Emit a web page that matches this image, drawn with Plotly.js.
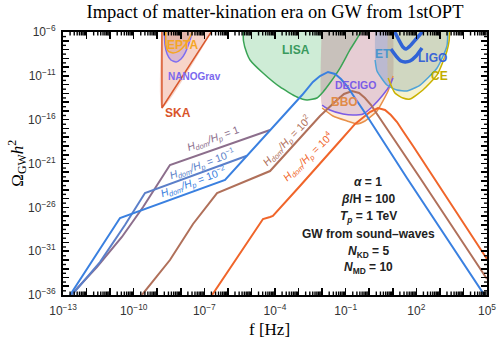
<!DOCTYPE html>
<html><head><meta charset="utf-8">
<script src="https://cdn.plot.ly/plotly-3.0.1.min.js"></script>
<style>html,body{margin:0;padding:0;background:#fff;}#chart{width:498px;height:344px;}</style>
</head><body><div id="chart"></div>
<script>
// All values are log10(f/Hz) and log10(Omega_GW h^2).
// GW spectra, H_dom/H_p = 1, 1e-1, 1e-2, 1e2, 1e4
const purpleLogF = [-12.66, -11.56, -10.50, -9.60, -8.46, -4.21];
const purpleLogO = [-36.00, -32.81, -29.38, -25.96, -21.17, -17.18];
const midLogF = [-12.62, -11.43, -10.37, -9.52, -5.19];
const midLogO = [-36.00, -32.24, -28.02, -24.37, -20.12];
const blueLogF = [-12.70, -10.58, -6.12, -4.42, -3.36, -2.85, -2.39, -2.09, -1.75, -1.45, -1.20, -0.94, -0.69, -0.26, 1.60, 5.00];
const blueLogO = [-36.00, -27.22, -22.88, -17.86, -14.67, -13.19, -11.70, -11.02, -10.56, -10.79, -11.36, -12.16, -13.19, -14.90, -22.65, -36.46];
const brownLogF = [-9.65, -8.46, -7.48, -6.46, -4.21, -2.94, -2.09, -1.37, -1.07, -0.73, -0.43, -0.18, 0.08, 0.33, 0.75, 2.16, 5.00];
const brownLogO = [-36.00, -32.01, -27.90, -24.37, -21.86, -18.09, -15.58, -13.76, -13.07, -12.73, -12.96, -13.53, -14.33, -15.35, -17.06, -22.65, -34.17];
const orangeLogF = [-6.67, -4.51, -4.21, -4.09, -2.94, -2.09, -1.24, -0.60, -0.26, 0.03, 0.37, 0.67, 0.92, 1.18, 1.43, 1.86, 5.00];
const orangeLogO = [-36.00, -27.33, -27.10, -26.99, -23.57, -21.06, -18.43, -16.49, -15.70, -15.13, -14.67, -14.90, -15.47, -16.27, -17.29, -19.00, -31.89];

// Detector sensitivity regions
const skaLogF = [-8.80, -8.80, -6.38];
const skaLogO = [-4.63, -14.67, -4.63];
const nanoLogF = [-8.71, -8.67, -8.58, -8.42, -8.20, -7.99, -7.82, -7.65, -7.52, -7.48];
const nanoLogO = [-4.63, -7.48, -8.51, -9.19, -9.42, -9.08, -8.40, -7.25, -6.00, -4.63];
const eptaLogF = [-8.63, -8.63, -8.54, -8.33, -8.08, -7.82, -7.61, -7.44, -7.35];
const eptaLogO = [-4.63, -7.48, -8.17, -8.40, -8.17, -7.48, -6.57, -5.54, -4.63];
const lisaLogF = [-5.34, -5.34, -5.20, -5.06, -4.51, -3.79, -3.07, -2.64, -2.22, -1.96, -1.67, -1.24, -0.82, -0.39, -0.35];
const lisaLogO = [-4.63, -7.00, -8.40, -9.19, -10.68, -12.27, -13.41, -13.76, -13.53, -12.84, -11.82, -10.11, -8.05, -6.11, -4.63];
const decigoLogF = [-2.00, -2.00, -1.67, -1.11, -0.69, -0.26, 0.16, 0.58, 0.88, 1.01, 1.01];
const decigoLogO = [-4.63, -14.33, -14.90, -15.35, -15.47, -15.35, -14.44, -13.19, -12.05, -11.25, -4.63];
const bboLogF = [-2.00, -2.00, -1.54, -0.94, -0.52, -0.18, 0.33, 0.80, 1.01, 1.01];
const bboLogO = [-4.63, -14.67, -15.58, -16.15, -16.49, -16.15, -15.01, -12.73, -11.02, -4.63];
const etLogF = [0.25, 0.25, 0.33, 0.75, 1.18, 1.60, 2.16, 2.88, 3.30, 3.34];
const etLogO = [-4.63, -9.19, -10.45, -12.05, -12.62, -12.73, -12.05, -10.11, -7.60, -4.63];
const ceLogF = [0.80, 0.80, 1.09, 1.43, 1.73, 2.28, 2.88, 3.30, 3.39, 3.43];
const ceLogO = [-4.63, -11.25, -12.96, -13.53, -13.64, -12.62, -10.90, -8.17, -7.03, -4.63];
const ligoALogF = [0.96, 1.26, 1.43, 1.56, 1.73, 1.99, 2.28];
const ligoALogO = [-5.32, -6.91, -7.71, -7.94, -7.60, -6.80, -5.89];
const ligoBLogF = [0.92, 1.14, 1.35, 1.52, 1.73, 1.99, 2.24];
const ligoBLogO = [-7.94, -8.74, -9.31, -9.42, -9.31, -8.74, -7.83];

// Axis ticks (decade exponents)
const xDecades = [-13,-12,-11,-10,-9,-8,-7,-6,-5,-4,-3,-2,-1,0,1,2,3,4,5];
const xLabelled = [-13,-10,-7,-4,-1,2,5];
const yDecades = [];
for (let e = -36; e <= -6; e++) yDecades.push(e);
const yLabelled = [-36,-31,-26,-21,-16,-11,-6];
const xRange = [-13, 5], yRange = [-36, -6];

const P = a => a.map(v => Math.pow(10, v));
const sup = e => '10<sup>' + (e < 0 ? '\u2212' + (-e) : e) + '</sup>';

function fillTrace(lf, lo, color) {
  return {x: P(lf), y: P(lo), mode: 'lines', fill: 'toself', fillcolor: color,
          line: {width: 0, shape: 'spline', smoothing: 0.5}, hoverinfo: 'skip', showlegend: false};
}
function lineTrace(lf, lo, color, w, shape) {
  return {x: P(lf), y: P(lo), mode: 'lines', line: {color: color, width: w, shape: shape || 'linear', smoothing: 0.5},
          hoverinfo: 'skip', showlegend: false};
}
const sl = (a, i, j) => a.slice(i, j);

// Minor tick marks (multiples 2..9 on x, 3x on y), drawn as short segments on all four sides
const plotW = 498 - 63 - 11, plotH = 344 - 32 - 49;
const dxPerPx = (xRange[1] - xRange[0]) / plotW, dyPerPx = (yRange[1] - yRange[0]) / plotH;
const tx = [], ty = [];
function seg(x0, y0, x1, y1) { tx.push(Math.pow(10, x0), Math.pow(10, x1), null); ty.push(Math.pow(10, y0), Math.pow(10, y1), null); }
function xTick(le, len) {
  seg(le, yRange[0], le, yRange[0] + len * dyPerPx);
  seg(le, yRange[1], le, yRange[1] - len * dyPerPx);
}
function yTick(le, len) {
  seg(xRange[0], le, xRange[0] + len * dxPerPx, le);
  seg(xRange[1], le, xRange[1] - len * dxPerPx, le);
}
xDecades.forEach(e => {
  if (e < xRange[1]) for (let m = 2; m <= 9; m++) xTick(e + Math.log10(m), 3.5);
});
yDecades.forEach(e => {
  if (e < yRange[1]) yTick(e + Math.log10(3), 3);
});

const traces = [
  fillTrace(skaLogF, skaLogO, 'rgba(225,100,60,0.28)'),
  fillTrace(nanoLogF, nanoLogO, 'rgba(130,100,230,0.25)'),
  fillTrace(eptaLogF, eptaLogO, 'rgba(250,170,60,0.25)'),
  fillTrace(lisaLogF, lisaLogO, 'rgba(60,180,90,0.25)'),
  fillTrace(bboLogF, bboLogO, 'rgba(245,160,80,0.2)'),
  fillTrace(decigoLogF, decigoLogO, 'rgba(160,110,190,0.24)'),
  fillTrace(etLogF, etLogO, 'rgba(90,140,200,0.3)'),
  fillTrace(ceLogF, ceLogO, 'rgba(220,200,60,0.25)'),
  lineTrace(skaLogF, skaLogO, '#d9582c', 1.5),
  lineTrace(nanoLogF, nanoLogO, '#7f6ef0', 1.5, 'spline'),
  lineTrace(eptaLogF, eptaLogO, '#f5a623', 1.5, 'spline'),
  lineTrace(lisaLogF, lisaLogO, '#3aa455', 1.5, 'spline'),
  lineTrace(sl(bboLogF,1,9), sl(bboLogO,1,9), '#e8904a', 1.5, 'spline'),
  lineTrace(sl(decigoLogF,1,10), sl(decigoLogO,1,10), '#7b5ce6', 1.5, 'spline'),
  lineTrace(sl(etLogF,1,10), sl(etLogO,1,10), '#4fa3d8', 1.5, 'spline'),
  lineTrace(sl(ceLogF,1,10), sl(ceLogO,1,10), '#c9b200', 1.5, 'spline'),
  lineTrace(ligoALogF, ligoALogO, '#3063d6', 3.5, 'spline'),
  lineTrace(ligoBLogF, ligoBLogO, '#3063d6', 3.5, 'spline'),
  lineTrace(purpleLogF, purpleLogO, '#8c6e8c', 2),
  lineTrace(midLogF, midLogO, '#5b7fc9', 2),
  lineTrace(brownLogF, brownLogO, '#b0705a', 2),
  lineTrace(orangeLogF, orangeLogO, '#f0652a', 2),
  lineTrace(blueLogF, blueLogO, '#3a80e0', 2),
  {x: tx, y: ty, mode: 'lines', connectgaps: false, line: {color: '#000', width: 1.4},
   hoverinfo: 'skip', showlegend: false}
];

const tickFont = {family: 'Liberation Sans, Arial, sans-serif', size: 12, color: '#333'};
const axisBase = {
  type: 'log', ticks: 'inside', ticklen: 7, tickwidth: 1.6, tickcolor: '#000',
  showline: true, linecolor: '#000', linewidth: 2, mirror: 'allticks',
  showgrid: false, zeroline: false, tickmode: 'array', tickfont: tickFont
};

const H = (v) => '<i>H</i><sub><i>dom</i></sub><i>/H</i><sub><i>p</i></sub> = ' + v;
const det = (t, x, y, c, s) => ({text: '<b>' + t + '</b>', x: x, y: y, xref: 'x', yref: 'y', showarrow: false,
  font: {family: 'Liberation Sans, Arial, sans-serif', size: s, color: c}});
const rot = (t, x, y, c, a) => ({text: t, x: x, y: y, xref: 'x', yref: 'y', showarrow: false, textangle: a,
  font: {family: 'Liberation Sans, Arial, sans-serif', size: 10.5, color: c}});
const info = (t, y) => ({text: '<b>' + t + '</b>', x: -0.05, y: y, xref: 'x', yref: 'y', showarrow: false,
  xanchor: 'center', font: {family: 'Liberation Sans, Arial, sans-serif', size: 12, color: '#222'}});

const layout = {
  width: 498, height: 344,
  margin: {l: 63, r: 11, t: 32, b: 49, pad: 0},
  paper_bgcolor: '#fff', plot_bgcolor: '#fff', showlegend: false,
  title: {text: 'Impact of matter-kination era on GW from 1stOPT', x: 0.5, xref: 'paper',
          y: 1 - 12 / 344, yref: 'container', yanchor: 'middle',
          font: {family: 'Liberation Serif, Times New Roman, serif', size: 18.5, color: '#000'}},
  xaxis: Object.assign({}, axisBase, {
    range: xRange,
    tickvals: P(xDecades),
    ticktext: xDecades.map(e => xLabelled.includes(e) ? sup(e) : ''),
    ticklabelstandoff: 4
  }),
  yaxis: Object.assign({}, axisBase, {
    range: yRange,
    ticklen: 6,
    tickvals: P(yDecades),
    ticktext: yDecades.map(e => yLabelled.includes(e) ? sup(e) : ''),
    ticklabelstandoff: 3
  }),
  annotations: [
    {text: '\u03A9<sub>GW</sub><i>h</i><sup>2</sup>', xref: 'paper', yref: 'paper', x: -0.108, y: 0.5,
     textangle: -90, showarrow: false, xanchor: 'center', yanchor: 'middle',
     font: {family: 'Liberation Serif, Times New Roman, serif', size: 17, color: '#000'}},
    {text: 'f [Hz]', xref: 'paper', yref: 'paper', x: 0.488, y: -0.133, showarrow: false,
     xanchor: 'center', yanchor: 'middle',
     font: {family: 'Liberation Serif, Times New Roman, serif', size: 17, color: '#000'}},
    det('EPTA', -7.91, -7.48, '#f5a623', 12),
    det('NANOGrav', -7.40, -11.02, '#7b68ee', 10),
    det('SKA', -8.12, -15.24, '#d9552b', 12),
    det('LISA', -3.11, -8.05, '#3a9a5e', 12),
    det('DECIGO', -0.60, -12.05, '#7b5ce6', 10.5),
    det('BBO', -1.03, -13.98, '#e08a48', 12),
    det('ET', 0.58, -8.51, '#4b96cd', 12),
    det('LIGO', 2.67, -8.97, '#3a64d6', 12),
    det('CE', 3.00, -11.02, '#c2ad00', 12),
    rot(H('1'), -6.63, -18.20, '#8c6e8c', -20),
    rot(H('10<sup>\u22121</sup>'), -7.06, -21.10, '#5b7fc9', -20),
    rot(H('10<sup>\u22122</sup>'), -7.44, -23.15, '#3a80e0', -20),
    rot(H('10<sup>2</sup>'), -3.49, -18.43, '#b0705a', -46),
    rot(H('10<sup>4</sup>'), -2.60, -20.26, '#f0652a', -44),
    info('<i>\u03B1</i> = 1', -23.11),
    info('<i>\u03B2</i>/H = 100', -25.05),
    info('<i>T<sub>p</sub></i> = 1 TeV', -27.10),
    info('GW from sound\u2013waves', -29.04),
    info('<i>N</i><sub>KD</sub> = 5', -31.09),
    info('<i>N</i><sub>MD</sub> = 10', -32.92)
  ]
};

Plotly.newPlot('chart', traces, layout, {staticPlot: true, displayModeBar: false});
</script>
</body></html>
